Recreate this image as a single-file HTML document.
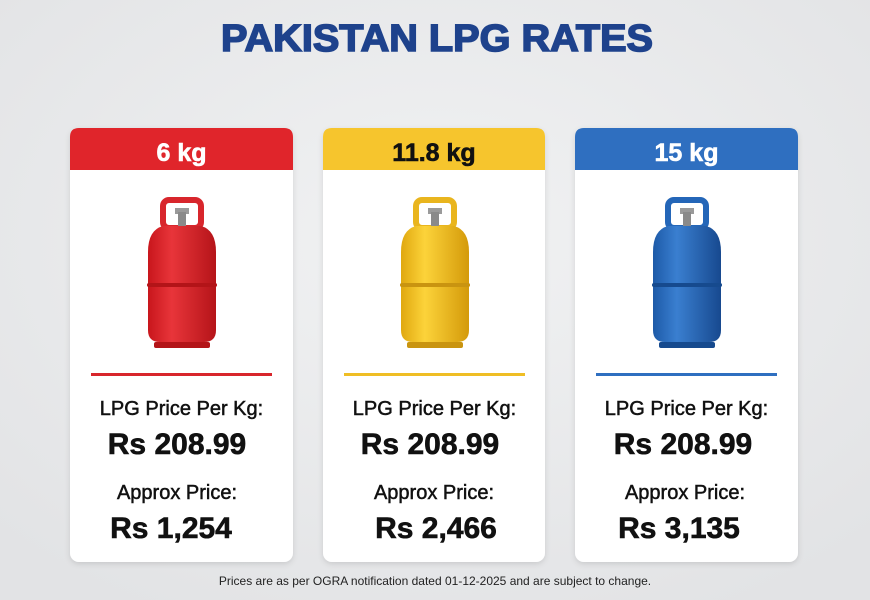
<!DOCTYPE html>
<html><head><meta charset="utf-8"><style>
html,body{margin:0;padding:0;background:#e8e9eb;}
svg{display:block;}
text{font-family:"Liberation Sans",sans-serif;}
</style></head><body>
<svg width="870" height="600" viewBox="0 0 870 600" xmlns="http://www.w3.org/2000/svg">
<defs>
<radialGradient id="bg" cx="50%" cy="40%" r="70%"><stop offset="0" stop-color="#f1f2f3"/><stop offset="1" stop-color="#e2e3e5"/></radialGradient>
<filter id="sh" x="-10%" y="-10%" width="120%" height="120%"><feDropShadow dx="0" dy="2" stdDeviation="3" flood-color="#000" flood-opacity="0.12"/></filter>
<linearGradient id="gr" x1="0" x2="1"><stop offset="0" stop-color="#c8161c"/><stop offset="0.35" stop-color="#e8353a"/><stop offset="1" stop-color="#b51419"/></linearGradient>
<linearGradient id="gy" x1="0" x2="1"><stop offset="0" stop-color="#e0a80f"/><stop offset="0.35" stop-color="#fcd33a"/><stop offset="1" stop-color="#d49a0a"/></linearGradient>
<linearGradient id="gb" x1="0" x2="1"><stop offset="0" stop-color="#1d5aa8"/><stop offset="0.35" stop-color="#3a7fd0"/><stop offset="1" stop-color="#17498f"/></linearGradient>
<g id="cyl">
  <rect x="163" y="200" width="38" height="28" rx="6" fill="none" stroke="var(--c)" stroke-width="6"/>
  <rect x="175" y="208" width="14" height="6" fill="#9a9a9a"/>
  <rect x="178" y="212" width="8" height="14" fill="#8a8a8a"/>
  <path d="M163 226 Q148 230 148 252 L148 330 Q148 342 160 342 L204 342 Q216 342 216 330 L216 252 Q216 230 201 226 Z" fill="var(--g)"/>
  <rect x="147" y="283" width="70" height="4" rx="2" fill="var(--d)"/>
  <rect x="154" y="342" width="56" height="6" rx="2" fill="var(--d)"/>
</g>
</defs>
<rect width="870" height="600" fill="url(#bg)"/>
<text x="437" y="51" text-anchor="middle" font-size="38" font-weight="bold" fill="#1e428c" stroke="#1e428c" stroke-width="1.6" textLength="432" lengthAdjust="spacingAndGlyphs">PAKISTAN LPG RATES</text>

<g font-weight="bold">
<!-- card 1 -->
<g>
<rect x="70" y="128" width="223" height="434" rx="9" fill="#fff" filter="url(#sh)"/>
<path d="M70 170 V137 Q70 128 79 128 H284 Q293 128 293 137 V170 Z" fill="#e0252b"/>
<text x="181.5" y="161" text-anchor="middle" font-size="25" fill="#fff" stroke="#fff" stroke-width="0.6">6 kg</text>
<use href="#cyl" style="--c:#d8262c;--g:url(#gr);--d:#b31418"/>
<rect x="91" y="373" width="181" height="3" fill="#d8262c"/>
<text x="181.5" y="415" text-anchor="middle" font-size="20" fill="#111" font-weight="normal" stroke="#111" stroke-width="0.5">LPG Price Per Kg:</text>
<text x="177" y="454" text-anchor="middle" font-size="30" fill="#111" stroke="#111" stroke-width="0.6">Rs 208.99</text>
<text x="177" y="499" text-anchor="middle" font-size="20" fill="#111" font-weight="normal" stroke="#111" stroke-width="0.5">Approx Price:</text>
<text x="171" y="538" text-anchor="middle" font-size="30" fill="#111" stroke="#111" stroke-width="0.6">Rs 1,254</text>
</g>
<!-- card 2 -->
<g transform="translate(253,0)">
<rect x="70" y="128" width="222" height="434" rx="9" fill="#fff" filter="url(#sh)"/>
<path d="M70 170 V137 Q70 128 79 128 H283 Q292 128 292 137 V170 Z" fill="#f6c52d"/>
<text x="181" y="161" text-anchor="middle" font-size="25" fill="#111" stroke="#111" stroke-width="0.6">11.8 kg</text>
<use href="#cyl" style="--c:#e9b51e;--g:url(#gy);--d:#c99410"/>
<rect x="91" y="373" width="181" height="3" fill="#efbe25"/>
<text x="181.5" y="415" text-anchor="middle" font-size="20" fill="#111" font-weight="normal" stroke="#111" stroke-width="0.5">LPG Price Per Kg:</text>
<text x="177" y="454" text-anchor="middle" font-size="30" fill="#111" stroke="#111" stroke-width="0.6">Rs 208.99</text>
<text x="181" y="499" text-anchor="middle" font-size="20" fill="#111" font-weight="normal" stroke="#111" stroke-width="0.5">Approx Price:</text>
<text x="183" y="538" text-anchor="middle" font-size="30" fill="#111" stroke="#111" stroke-width="0.6">Rs 2,466</text>
</g>
<!-- card 3 -->
<g transform="translate(505,0)">
<rect x="70" y="128" width="223" height="434" rx="9" fill="#fff" filter="url(#sh)"/>
<path d="M70 170 V137 Q70 128 79 128 H284 Q293 128 293 137 V170 Z" fill="#2f6fc0"/>
<text x="181.5" y="161" text-anchor="middle" font-size="25" fill="#fff" stroke="#fff" stroke-width="0.6">15 kg</text>
<use href="#cyl" style="--c:#2466b8;--g:url(#gb);--d:#164a8e"/>
<rect x="91" y="373" width="181" height="3" fill="#2f6fc0"/>
<text x="181.5" y="415" text-anchor="middle" font-size="20" fill="#111" font-weight="normal" stroke="#111" stroke-width="0.5">LPG Price Per Kg:</text>
<text x="178" y="454" text-anchor="middle" font-size="30" fill="#111" stroke="#111" stroke-width="0.6">Rs 208.99</text>
<text x="180" y="499" text-anchor="middle" font-size="20" fill="#111" font-weight="normal" stroke="#111" stroke-width="0.5">Approx Price:</text>
<text x="174" y="538" text-anchor="middle" font-size="30" fill="#111" stroke="#111" stroke-width="0.6">Rs 3,135</text>
</g>
</g>
<text x="435" y="585" text-anchor="middle" font-size="12" fill="#222">Prices are as per OGRA notification dated 01-12-2025 and are subject to change.</text>
</svg>
</body></html>
